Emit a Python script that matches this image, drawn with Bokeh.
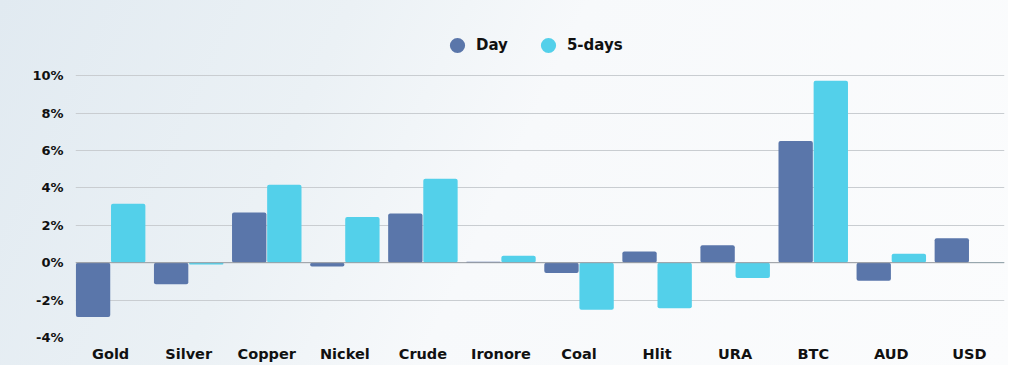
from bokeh.plotting import figure
from bokeh.models import Legend, LegendItem, FixedTicker, PrintfTickFormatter, Span, Range1d, ColumnDataSource
from bokeh.embed import file_html
from bokeh.resources import INLINE

categories = ["Gold", "Silver", "Copper", "Nickel", "Crude", "Ironore", "Coal", "Hlit", "URA", "BTC", "AUD", "USD"]
day = [-2.9, -1.15, 2.68, -0.2, 2.63, 0.05, -0.55, 0.6, 0.93, 6.5, -0.96, 1.3]
five_days = [3.15, -0.1, 4.17, 2.44, 4.49, 0.37, -2.51, -2.44, -0.82, 9.73, 0.48, 0.02]
y_ticks = [-4, -2, 0, 2, 4, 6, 8, 10]

DAY_COLOR = "#5a76aa"
FIVE_COLOR = "#53d0ea"
FONT = "DejaVu Sans"

idx = list(range(len(categories)))
src = ColumnDataSource(dict(
    x_day=[i - 0.225 for i in idx], x_five=[i + 0.225 for i in idx],
    day=day, five=five_days))

p = figure(width=1008, height=365, output_backend="svg", toolbar_location=None,
           x_range=Range1d(-0.45, len(categories) - 0.55), y_range=Range1d(-4, 13.27),
           min_border_left=75, min_border_right=4, min_border_top=14, min_border_bottom=28)

p.styles = {"background-image": "linear-gradient(115deg, #e1eaf1 0%, #ebf1f5 30%, #f7f9fb 50%, #fbfcfd 100%)"}
p.border_fill_alpha = 0
p.background_fill_alpha = 0
p.outline_line_color = None

r1 = p.vbar(x="x_day", top="day", bottom=0, width=0.44, source=src,
            fill_color=DAY_COLOR, line_color=None, border_radius=2)
r2 = p.vbar(x="x_five", top="five", bottom=0, width=0.44, source=src,
            fill_color=FIVE_COLOR, line_color=None, border_radius=2)

p.add_layout(Span(location=0, dimension="width", line_color="#9a9ea3", line_width=1))

# legend markers
l1 = p.scatter(x=[float("nan")], y=[float("nan")], marker="circle", fill_color=DAY_COLOR, line_color=None)
l2 = p.scatter(x=[float("nan")], y=[float("nan")], marker="circle", fill_color=FIVE_COLOR, line_color=None)
legend = Legend(items=[LegendItem(label="Day", renderers=[l1]), LegendItem(label="5-days", renderers=[l2])],
                orientation="horizontal", location=(363, 273), margin=0, padding=0,
                glyph_width=38, glyph_height=38, label_standoff=-9, spacing=21,
                label_text_font=FONT, label_text_font_style="bold", label_text_font_size="15px",
                label_text_color="#111111", border_line_color=None, background_fill_alpha=0)
p.add_layout(legend)

p.xaxis.ticker = FixedTicker(ticks=idx)
p.xaxis.major_label_overrides = {i: c for i, c in enumerate(categories)}
p.yaxis.ticker = FixedTicker(ticks=y_ticks)
p.yaxis.formatter = PrintfTickFormatter(format="%d%%")

for ax in (p.xaxis[0], p.yaxis[0]):
    ax.axis_line_color = None
    ax.major_tick_line_color = None
    ax.minor_tick_line_color = None
    ax.major_tick_out = 0
    ax.major_tick_in = 0
    ax.major_label_text_font = FONT
    ax.major_label_text_font_style = "bold"
    ax.major_label_text_color = "#111111"
p.xaxis.major_label_text_font_size = "14.5px"
p.yaxis.major_label_text_font_size = "13px"
p.xaxis.major_label_standoff = 8
p.yaxis.major_label_standoff = 12

p.xgrid.grid_line_color = None
p.ygrid.ticker = FixedTicker(ticks=y_ticks)
p.ygrid.grid_line_color = "#c9cdd1"
p.ygrid.grid_line_width = 1

open("out.html", "w").write(file_html(p, INLINE))
